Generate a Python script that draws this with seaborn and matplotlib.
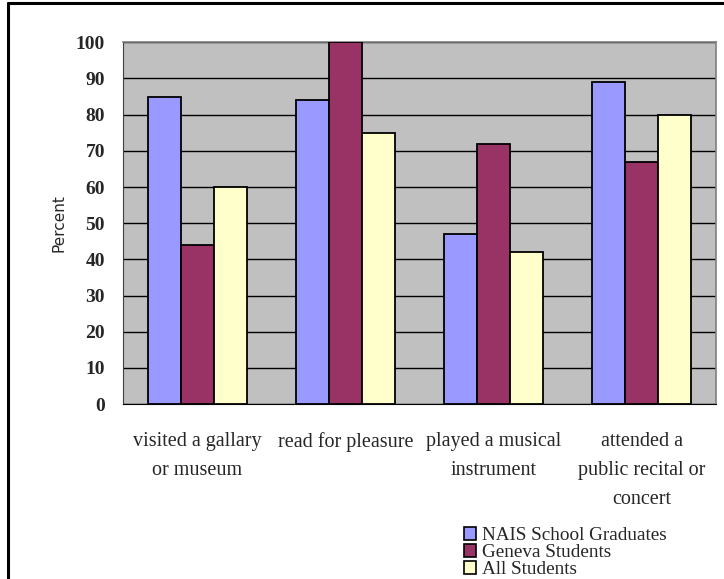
import matplotlib
matplotlib.use("Agg")
import matplotlib.pyplot as plt
from matplotlib.lines import Line2D
from matplotlib.patches import Patch
import numpy as np
import pandas as pd
import seaborn as sns

categories = ["visited a gallary\nor museum", "read for pleasure",
              "played a musical\ninstrument", "attended a\npublic recital or\nconcert"]
series = ["NAIS School Graduates", "Geneva Students", "All Students"]
nais = [85, 84, 47, 89]
geneva = [44, 100, 72, 67]
all_students = [60, 75, 42, 80]
colors = ["#9999FF", "#993366", "#FFFFCC"]
y_ticks = list(range(0, 101, 10))

df = pd.DataFrame({
    "Activity": categories * 3,
    "Group": [s for s in series for _ in categories],
    "Percent": nais + geneva + all_students,
})

sns.set_style("white")
plt.rcParams["font.family"] = ["Liberation Serif", "DejaVu Serif"]

fig = plt.figure(figsize=(7.24, 5.79), dpi=100)
ax = fig.add_axes([0.170, 0.302, 0.819, 0.625])

sns.barplot(data=df, x="Activity", y="Percent", hue="Group", order=categories,
            hue_order=series, palette=colors, width=0.667, gap=0,
            edgecolor="black", linewidth=1.3, saturation=1, legend=False,
            errorbar=None, ax=ax, zorder=3)

ax.set_facecolor("#C0C0C0")
ax.set_xlim(-0.5, len(categories) - 0.5)
ax.set_ylim(0, 100)
ax.set_yticks(y_ticks)
ax.set_yticklabels([str(v) for v in y_ticks], fontsize=14, fontweight="bold")
ax.yaxis.grid(True, color="black", linewidth=1.0, zorder=1)
ax.set_axisbelow(True)

ax.set_xticks(range(len(categories)))
ax.set_xticklabels(categories, fontsize=14.5, linespacing=1.72, va="top")
ax.tick_params(axis="x", which="major", length=0, pad=20)
ax.set_xticks(np.arange(-0.5, len(categories), 1.0), minor=True)
ax.tick_params(axis="x", which="minor", length=7, width=1, color="black", direction="out")
ax.tick_params(axis="y", length=7, width=1, color="black", direction="out", pad=6)

ax.set_xlabel("")
ax.set_ylabel("Percent", family="DejaVu Sans", fontsize=11, labelpad=7)

for side in ["top", "right"]:
    ax.spines[side].set_color("#808080")
    ax.spines[side].set_linewidth(1.2)
ax.spines["left"].set_color("#404040")
ax.spines["bottom"].set_color("black")
for side in ax.spines:
    ax.spines[side].set_visible(True)

handles = [Patch(facecolor=c, edgecolor="black", linewidth=1.2) for c in colors]
fig.legend(handles, series, loc="lower left", bbox_to_anchor=(0.622, -0.022),
           frameon=False, fontsize=13.8, handlelength=0.63, handleheight=0.63,
           handletextpad=0.3, labelspacing=0.0, borderpad=0.2)

# outer chart border (left and top edges)
fig.add_artist(Line2D([0.0105, 0.0105], [0, 0.994], transform=fig.transFigure,
                      color="black", linewidth=2.2))
fig.add_artist(Line2D([0.0105, 1.0], [0.994, 0.994], transform=fig.transFigure,
                      color="black", linewidth=2.2))

fig.savefig("out.png", dpi=100)
